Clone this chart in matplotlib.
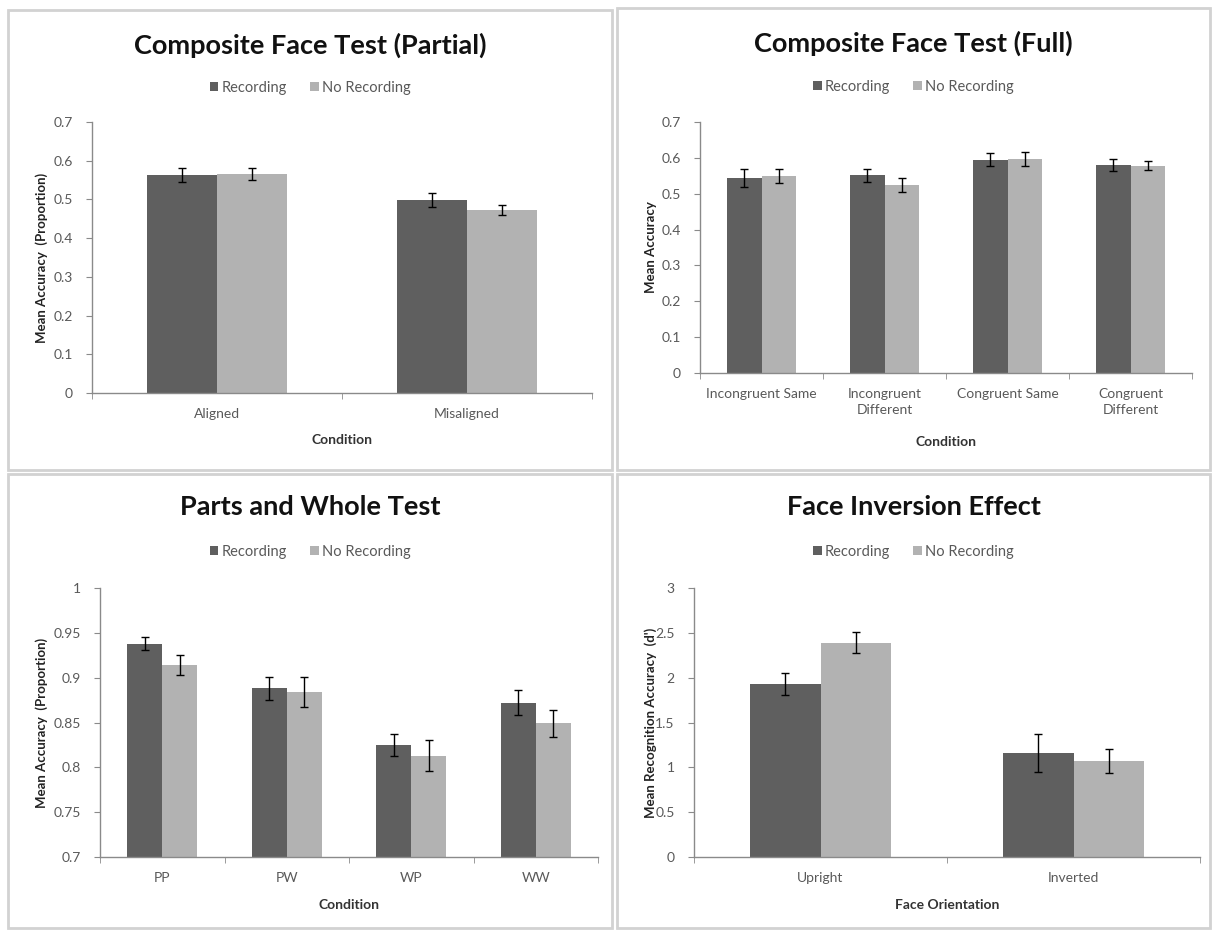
import matplotlib
matplotlib.use("Agg")
import matplotlib.pyplot as plt
from matplotlib.patches import Rectangle, Patch
import numpy as np

plt.rcParams['font.family'] = ['Lato', 'DejaVu Sans']

series_names = ["Recording", "No Recording"]
colors = ["#5f5f5f", "#b2b2b2"]

# Panel 1
p1_title = "Composite Face Test (Partial)"
p1_cats = ["Aligned", "Misaligned"]
p1_rec = [0.562, 0.498]
p1_rec_err = [0.018, 0.018]
p1_norec = [0.565, 0.473]
p1_norec_err = [0.015, 0.013]

# Panel 2
p2_title = "Composite Face Test (Full)"
p2_cats = ["Incongruent Same", "Incongruent\nDifferent", "Congruent Same", "Congruent\nDifferent"]
p2_rec = [0.543, 0.551, 0.595, 0.581]
p2_rec_err = [0.025, 0.018, 0.018, 0.017]
p2_norec = [0.550, 0.525, 0.597, 0.578]
p2_norec_err = [0.020, 0.020, 0.020, 0.013]

# Panel 3
p3_title = "Parts and Whole Test"
p3_cats = ["PP", "PW", "WP", "WW"]
p3_rec = [0.938, 0.888, 0.825, 0.872]
p3_rec_err = [0.007, 0.013, 0.012, 0.014]
p3_norec = [0.914, 0.884, 0.813, 0.849]
p3_norec_err = [0.011, 0.017, 0.017, 0.015]

# Panel 4
p4_title = "Face Inversion Effect"
p4_cats = ["Upright", "Inverted"]
p4_rec = [1.93, 1.16]
p4_rec_err = [0.12, 0.21]
p4_norec = [2.39, 1.07]
p4_norec_err = [0.12, 0.13]

W, H = 1212, 930
fig = plt.figure(figsize=(W / 100, H / 100), dpi=100)
fig.patch.set_facecolor("white")

def fx(x):
    return x / W

def fy(y):
    return 1 - y / H

# panel frames
frames = [(8, 10, 604, 460), (617, 8, 593, 462), (8, 474, 604, 454), (617, 474, 593, 454)]
for (x, y, w, h) in frames:
    fig.patches.append(Rectangle((fx(x), fy(y + h)), w / W, h / H, transform=fig.transFigure,
                                 facecolor="none", edgecolor="#d2d2d2", linewidth=2, zorder=0))

tick_color = "#595959"
axis_color = "#8a8a8a"

def panel(box, frame, title, cats, rec, rec_err, norec, norec_err, ylim, yticks, ylabel, xlabel,
          title_y, legend_y, xlabel_y, ylabel_x):
    x0, y0, x1, y1 = box
    ax = fig.add_axes([fx(x0), fy(y1), (x1 - x0) / W, (y1 - y0) / H])
    ax.set_facecolor("none")
    n = len(cats)
    idx = np.arange(n)
    bw = 0.28
    ax.bar(idx - bw / 2, rec, bw, color=colors[0], zorder=2)
    ax.bar(idx + bw / 2, norec, bw, color=colors[1], zorder=2)
    ax.errorbar(idx - bw / 2, rec, yerr=rec_err, fmt="none", ecolor="black", elinewidth=1.0,
                capsize=3, capthick=1.0, zorder=3)
    ax.errorbar(idx + bw / 2, norec, yerr=norec_err, fmt="none", ecolor="black", elinewidth=1.0,
                capsize=3, capthick=1.0, zorder=3)
    ax.set_xlim(-0.5, n - 0.5)
    ax.set_ylim(*ylim)
    ax.set_yticks(yticks)
    ax.set_yticklabels(["%g" % round(v, 3) for v in yticks], fontsize=10, color=tick_color)
    ax.set_xticks(idx)
    ax.set_xticklabels(cats, fontsize=10, color=tick_color, linespacing=1.35)
    ax.tick_params(axis="x", length=0, pad=11)
    ax.set_xticks(np.arange(n + 1) - 0.5, minor=True)
    ax.tick_params(axis="x", which="minor", length=4, color=axis_color, direction="out")
    ax.tick_params(axis="y", length=4, color=axis_color, direction="out", pad=10)
    for s in ["top", "right"]:
        ax.spines[s].set_visible(False)
    for s in ["left", "bottom"]:
        ax.spines[s].set_color(axis_color)
        ax.spines[s].set_linewidth(1)
    fig.text(fx(ylabel_x), fy((y0 + y1) / 2), ylabel, rotation=90, ha="center", va="center",
             fontsize=9.5, fontweight="bold", color="#222222")
    fxc = frame[0] + frame[2] / 2
    fig.text(fx(fxc), fy(title_y), title, ha="center", va="center", fontsize=19.5, fontweight="bold",
             color="#111111")
    fig.text(fx((x0 + x1) / 2), fy(xlabel_y), xlabel, ha="center", va="center", fontsize=10,
             fontweight="bold", color="#333333")
    handles = [Patch(facecolor=colors[0]), Patch(facecolor=colors[1])]
    fig.legend(handles, series_names, loc="center", bbox_to_anchor=(fx(fxc), fy(legend_y)),
               ncol=2, frameon=False, fontsize=10.5, handlelength=0.6, handleheight=0.6,
               handletextpad=0.2, columnspacing=1.6, labelcolor=tick_color)
    return ax

panel((92, 122, 592, 393), frames[0], p1_title, p1_cats, p1_rec, p1_rec_err, p1_norec, p1_norec_err,
      (0, 0.7), np.arange(0, 0.71, 0.1), "Mean Accuracy  (Proportion)", "Condition",
      45, 88, 440, 42)
panel((700, 122, 1192, 373), frames[1], p2_title, p2_cats, p2_rec, p2_rec_err, p2_norec, p2_norec_err,
      (0, 0.7), np.arange(0, 0.71, 0.1), "Mean Accuracy", "Condition",
      43, 87, 442, 651)
panel((100, 588, 598, 857), frames[2], p3_title, p3_cats, p3_rec, p3_rec_err, p3_norec, p3_norec_err,
      (0.7, 1.0), np.arange(0.7, 1.001, 0.05), "Mean Accuracy  (Proportion)", "Condition",
      507, 552, 905, 42)
panel((694, 588, 1200, 857), frames[3], p4_title, p4_cats, p4_rec, p4_rec_err, p4_norec, p4_norec_err,
      (0, 3), np.arange(0, 3.01, 0.5), "Mean Recognition Accuracy  (d')", "Face Orientation",
      507, 552, 905, 651)

fig.savefig("out.png", dpi=100, facecolor="white")
